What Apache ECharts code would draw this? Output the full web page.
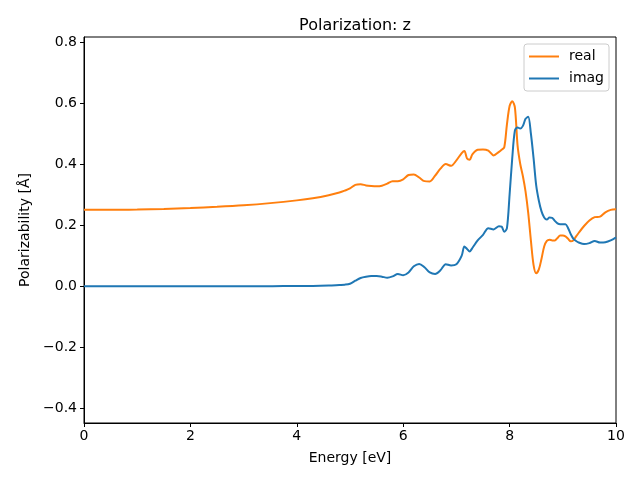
<!DOCTYPE html>
<html>
<head>
<meta charset="utf-8">
<script src="https://cdn.jsdelivr.net/npm/echarts@6/dist/echarts.min.js"></script>
<style>html,body{margin:0;padding:0;background:#fff}#c{width:640px;height:480px}</style>
</head>
<body>
<div id="c"></div>
<script>
const energy = [0,0.5,1,1.5,2,2.5,3,3.5,4,4.3,4.6,4.8,4.9,
  5.0,5.1,5.2,5.3,5.4,5.5,5.6,5.7,5.8,5.9,6.0,6.1,6.2,6.3,6.4,6.5,6.6,6.7,6.8,6.9,7.0,
  7.1,7.15,7.2,7.25,7.3,
  7.4,7.5,7.6,7.7,7.8,
  7.85,7.9,7.95,8.0,8.05,8.1,8.15,8.2,8.25,8.3,8.35,8.4,8.45,8.5,8.55,8.6,8.65,8.7,8.75,8.8,8.85,8.9,8.95,9.0,9.05,9.1,9.15,9.2,9.25,9.3,
  9.4,9.5,9.6,9.7,9.8,9.9,10.0];
const realVals = [0.250,0.250,0.251,0.253,0.256,0.260,0.265,0.272,0.281,0.288,0.298,0.307,0.313,
  0.320,0.332,0.334,0.330,0.328,0.327,0.329,0.336,0.344,0.344,0.350,0.364,0.366,0.356,0.344,0.343,0.362,0.385,0.400,0.394,0.412,
  0.436,0.443,0.418,0.414,0.432,
  0.447,0.448,0.444,0.428,0.440,
  0.447,0.455,0.530,0.590,0.606,0.585,0.460,0.400,0.360,0.310,0.240,0.150,0.070,0.042,0.055,0.090,0.130,0.148,0.152,0.150,0.150,0.158,0.166,0.166,0.163,0.155,0.147,0.150,0.163,0.175,
  0.197,0.215,0.226,0.228,0.242,0.250,0.252];
const imagVals = [0,0,0,0,0,0,0,0,0.001,0.001,0.002,0.004,0.005,
  0.008,0.018,0.027,0.031,0.033,0.033,0.031,0.028,0.032,0.040,0.036,0.045,0.065,0.073,0.062,0.045,0.040,0.052,0.072,0.068,0.072,
  0.100,0.130,0.122,0.114,0.125,
  0.150,0.168,0.190,0.186,0.196,
  0.195,0.178,0.190,0.300,0.420,0.510,0.520,0.516,0.525,0.548,0.555,0.500,0.420,0.330,0.280,0.245,0.225,0.218,0.225,0.224,0.214,0.206,0.203,0.203,0.203,0.190,0.170,0.155,0.148,0.143,
  0.138,0.141,0.148,0.143,0.144,0.150,0.160];
const xTicks = [0,2,4,6,8,10];
const yTicks = [-0.4,-0.2,0.0,0.2,0.4,0.6,0.8];

const font = 'DejaVu Sans';
const chart = echarts.init(document.getElementById('c'));
const fmtY = v => (v < 0 ? '\u2212' : '') + Math.abs(v).toFixed(1);
chart.setOption({
  animation: false,
  backgroundColor: '#fff',
  textStyle: {fontFamily: font},
  title: {
    text: 'Polarization: z', left: 350, top: 13, textAlign: 'center',
    textStyle: {fontFamily: font, fontSize: 16, fontWeight: 'normal', color: '#000'}
  },
  grid: {left: 84, right: 24, top: 37, bottom: 57, show: true, borderColor: '#000', borderWidth: 1, backgroundColor: 'transparent'},
  legend: {
    right: 31, top: 44, orient: 'vertical',
    data: ['real', 'imag'],
    icon: 'rect', itemWidth: 30, itemHeight: 2, itemGap: 7,
    padding: [5, 5, 5, 5],
    borderColor: '#cccccc', borderWidth: 1, borderRadius: 3, backgroundColor: 'rgba(255,255,255,0.8)',
    textStyle: {fontFamily: font, fontSize: 14, color: '#000', lineHeight: 15, padding: [0, 0, 0, 5]}
  },
  xAxis: {
    type: 'value', min: 0, max: 10,
    name: 'Energy [eV]', nameLocation: 'middle', nameGap: 28,
    nameTextStyle: {fontFamily: font, fontSize: 14, color: '#000'},
    axisLine: {show: true, onZero: false, lineStyle: {color: '#000', width: 1}},
    axisTick: {show: true, inside: false, length: 4, lineStyle: {color: '#000'}, customValues: xTicks},
    axisLabel: {fontFamily: font, fontSize: 14, color: '#000', margin: 6, customValues: xTicks, formatter: v => String(v)},
    splitLine: {show: false}
  },
  yAxis: {
    type: 'value', min: -0.448, max: 0.816,
    name: 'Polarizability [Å]', nameLocation: 'middle', nameGap: 51,
    nameTextStyle: {fontFamily: font, fontSize: 14, color: '#000'},
    axisLine: {show: true, onZero: false, lineStyle: {color: '#000', width: 1}},
    axisTick: {show: true, inside: false, length: 4, lineStyle: {color: '#000'}, customValues: yTicks},
    axisLabel: {fontFamily: font, fontSize: 14, color: '#000', margin: 7, customValues: yTicks, formatter: fmtY},
    splitLine: {show: false}
  },
  series: [
    {name: 'real', type: 'line', showSymbol: false, smooth: 0.3, color: '#ff7f0e',
     lineStyle: {width: 2, color: '#ff7f0e'},
     data: energy.map((e, i) => [e, realVals[i]])},
    {name: 'imag', type: 'line', showSymbol: false, smooth: 0.3, color: '#1f77b4',
     lineStyle: {width: 2, color: '#1f77b4'},
     data: energy.map((e, i) => [e, imagVals[i]])}
  ]
});
</script>
</body>
</html>
